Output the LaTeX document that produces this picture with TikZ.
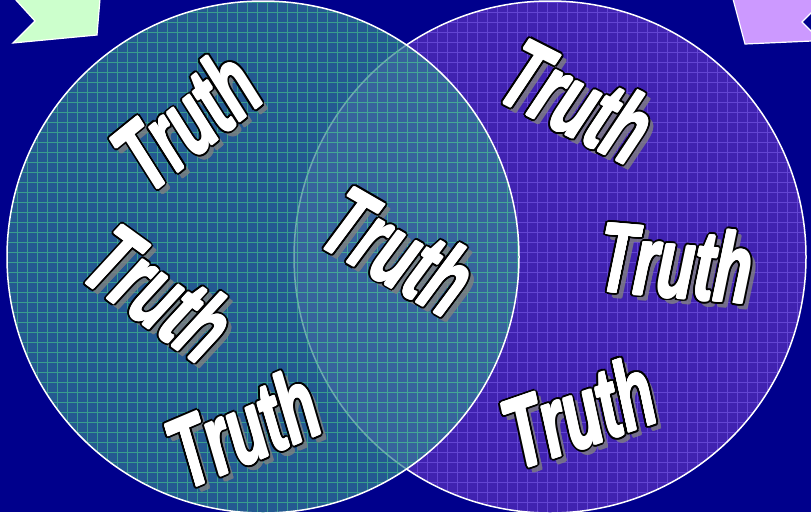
\documentclass[tikz,border=0pt]{standalone}
\usepackage{fontspec}
\newfontfamily\truthfont{Liberation Sans}
\usetikzlibrary{calc}
\definecolor{bgnavy}{RGB}{0,0,140}
\definecolor{leftfill}{RGB}{52,128,148}
\definecolor{leftgridc}{RGB}{70,205,140}
\definecolor{rightfill}{RGB}{64,34,176}
\definecolor{rightgridc}{RGB}{115,85,225}
\definecolor{arrowgreen}{RGB}{204,255,204}
\definecolor{arrowpurple}{RGB}{204,153,255}
\definecolor{shadowgray}{RGB}{128,128,128}
\newcommand{\tw}{\scalebox{0.6}[1]{Truth}}
\newcommand{\truthword}[4]{%
  \begin{scope}[transparency group, opacity=0.8]
  \foreach \a [count=\k] in {0,45,...,315}
    \node[wordshadow, rotate=#4] (#1-s\k) at ($(#2+5,-#3-5)+(\a:1)$) {\tw};
  \end{scope}
  \foreach \a [count=\k] in {0,22.5,...,337.5}
    \node[wordoutline, rotate=#4] (#1-o\k) at ($(#2,-#3)+(\a:2.8)$) {\tw};
  \foreach \a [count=\k] in {0,45,...,315}
    \node[wordfill, rotate=#4] (#1-b\k) at ($(#2,-#3)+(\a:0.9)$) {\tw};
  \node[wordfill, rotate=#4] (#1) at (#2,-#3) {\tw};
}
\tikzset{
  wordbase/.style={inner sep=0pt, anchor=center,
    font={\truthfont\bfseries\itshape\fontsize{100}{100}\selectfont}},
  wordshadow/.style={wordbase, text=shadowgray},
  wordoutline/.style={wordbase, text=black},
  wordfill/.style={wordbase, text=white},
  leftgridline/.style={leftgridc, line width=0.8pt, step=10, opacity=0.6},
  rightgridline/.style={rightgridc, line width=0.8pt, step=10, opacity=0.7},
  circleborder/.style={white, line width=1.5pt},
  arrowshape/.style={draw=white, line width=1.2pt, line join=miter}
}
\begin{document}
\begin{tikzpicture}[x=1pt,y=1pt]
\useasboundingbox (0,0) rectangle (811,-512);
\fill[bgnavy] (0,0) rectangle (811,-512);
% right circle
\fill[rightfill] (550,-257) circle (256);
\begin{scope}
  \clip (550,-257) circle (256);
  \draw[rightgridline, shift={(7,-2)}] (-20,-530) grid (830,20);
\end{scope}
\draw[circleborder] (550,-257) circle (256);
% left circle
\fill[leftfill, fill opacity=0.7] (263,-257) circle (256);
\begin{scope}
  \clip (263,-257) circle (256);
  \draw[leftgridline, shift={(7,-2)}] (-20,-530) grid (830,20);
\end{scope}
\draw[circleborder] (263,-257) circle (256);
% arrows
\filldraw[arrowshape, fill=arrowgreen] (15,1) -- (35,-21) -- (13,-43) -- (97,-35) -- (100,1) -- cycle;
\filldraw[arrowshape, fill=arrowpurple] (733,1) -- (745,-44) -- (812,-41) -- (812,-32) -- (802,-22) -- (812,-12) -- (812,1) -- cycle;
% words
\truthword{t1}{186}{120}{39}
\truthword{t2}{160}{293}{-36}
\truthword{t3}{243}{428}{23}
\truthword{t4}{399}{251}{-30}
\truthword{t5}{578}{101}{-27}
\truthword{t6}{676}{262}{-5}
\truthword{t7}{579}{412}{19}
\end{tikzpicture}
\end{document}
